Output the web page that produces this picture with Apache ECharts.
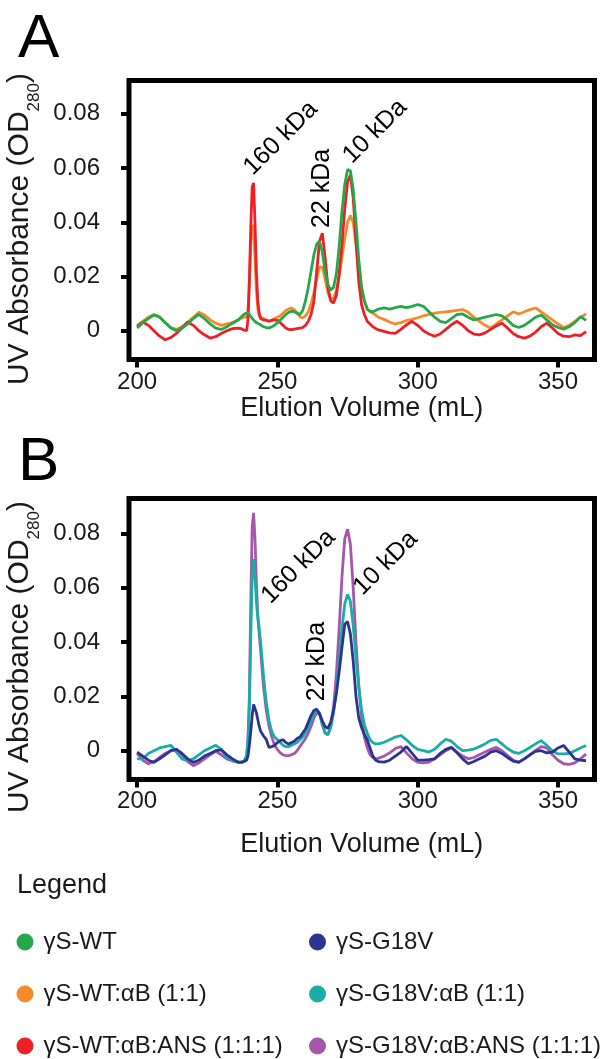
<!DOCTYPE html>
<html>
<head>
<meta charset="utf-8">
<script src="https://cdn.jsdelivr.net/npm/echarts@6/dist/echarts.min.js"></script>
<style>
html,body{margin:0;padding:0;background:#fff;}
#chart{width:605px;height:1059px;}
</style>
</head>
<body>
<div id="chart"></div>
<script>
// ---------------- data ----------------
const volume = [200,202,204,206,208,210,212,214,216,218,220,222,224,226,228,230,232,234,236,
  237,238,239,
  239.5,240,240.5,241,241.5,242,242.5,243,243.5,244,
  245,246,247,248,249,250,251,252,253,254,255,256,257,258,259,260,261,262,263,264,265,266,267,268,269,270,
  271,272,273,274,275,276,277,278,279,280,281,282,283,284,285,286,
  288,290,292,294,296,298,300,302,304,306,308,310,312,314,316,318,320,322,324,326,328,330,332,334,336,338,
  340,342,344,346,348,350,352,354,356,358,360];

// Panel A
const wt = [0.001,0.003,0.0045,0.0058,0.005,0.003,0.001,0.0,0.001,0.0025,0.0045,0.006,0.0045,0.0025,0.001,0.0005,0.0015,0.0028,0.004,
  0.005,0.006,0.0066,
  0.0064,0.006,0.0052,0.0046,0.004,0.0035,0.003,0.0028,0.0025,0.002,
  0.0015,0.0012,0.001,0.0015,0.002,0.003,0.004,0.005,0.006,0.0068,
  0.0072,0.007,0.0065,0.006,0.0075,0.011,0.016,0.022,0.028,0.032,
  0.033,0.029,0.022,0.017,0.015,0.016,0.021,0.031,0.044,0.054,
  0.0595,0.059,0.052,0.040,0.026,0.016,0.011,0.008,0.0072,0.007,
  0.0075,0.008,
  0.0084,0.008,0.0085,0.009,0.0085,0.009,0.0097,0.009,0.007,0.005,
  0.0035,0.003,0.0045,0.006,0.0062,0.005,0.004,0.0045,0.005,0.0055,
  0.006,0.0055,0.004,0.002,0.0012,0.002,0.0035,0.005,0.0058,0.004,
  0.0022,0.0012,0.0006,0.0015,0.003,0.0052,0.0038];

const wtAB = [0.002,0.0035,0.005,0.006,0.0052,0.003,0.0012,0.0005,0.0015,0.003,0.005,0.0068,0.0058,0.004,0.0028,0.002,0.0025,0.003,0.004,
  0.0045,0.005,0.005,
  0.007,0.018,0.032,0.039,0.038,0.027,0.015,0.008,0.0055,0.0048,
  0.0045,0.004,0.0035,0.004,0.0045,0.005,0.0055,0.0065,0.0075,0.008,
  0.0084,0.0078,0.0065,0.0052,0.0047,0.0055,0.007,0.010,0.014,0.019,
  0.0235,0.0235,0.019,0.014,0.0115,0.012,0.015,0.020,0.027,0.034,
  0.040,0.0425,0.040,0.032,0.022,0.015,0.011,0.008,0.007,0.0065,
  0.0058,0.005,
  0.0042,0.0032,0.0025,0.003,0.0038,0.0042,0.0048,0.0055,0.006,0.0065,
  0.0068,0.007,0.0072,0.0075,0.0078,0.0068,0.005,0.0035,0.002,0.001,
  0.0025,0.004,0.0055,0.007,0.0062,0.007,0.0078,0.0084,0.007,0.0055,
  0.004,0.0025,0.0012,0.002,0.0035,0.005,0.0062];

const wtABANS = [0.0015,0.0032,0.002,0.0,-0.002,-0.0033,-0.0025,-0.001,0.001,0.0033,0.002,0.0,-0.0015,-0.0027,-0.0022,-0.001,0.0,0.0008,0.001,
  0.0008,0.0003,0.0,
  0.004,0.018,0.038,0.053,0.0545,0.040,0.022,0.011,0.0065,0.0045,
  0.004,0.0038,0.0035,0.0038,0.004,0.0038,0.003,0.002,0.001,0.0005,
  0.0004,0.0006,0.0008,0.001,0.0012,0.002,0.0035,0.006,0.011,0.022,
  0.033,0.036,0.027,0.016,0.011,0.0102,0.013,0.021,0.032,0.045,
  0.055,0.0575,0.049,0.033,0.018,0.0095,0.006,0.0035,0.0025,0.0015,
  0.0008,0.0003,
  -0.0002,-0.0008,-0.001,0.0005,0.0022,0.0035,0.002,0.0,-0.0012,-0.002,
  -0.0012,0.0005,0.0022,0.0035,0.002,0.0,-0.0012,-0.0015,-0.0008,0.0005,
  0.0018,0.0028,0.001,-0.001,-0.0022,-0.0027,-0.002,-0.0005,0.0015,0.0028,
  0.001,-0.001,-0.002,-0.0022,-0.0015,-0.0018,-0.0003];

// Panel B
const g18v = [-0.0005,-0.002,-0.0035,-0.0043,-0.003,-0.0015,0.0,0.0005,-0.001,-0.003,-0.0043,-0.0035,-0.002,-0.001,0.0,0.0003,-0.0015,-0.003,-0.0043,
  -0.0042,-0.004,-0.0035,
  -0.002,0.002,0.007,0.013,0.017,0.0165,0.014,0.0115,0.009,0.0072,
  0.0055,0.0042,0.0012,0.0015,0.002,0.003,0.0037,0.004,0.003,0.0025,
  0.003,0.0035,0.0045,0.005,0.0065,0.008,0.0105,0.013,0.0148,0.0153,
  0.0135,0.011,0.0088,0.0083,0.0105,0.015,0.021,0.029,0.038,0.0465,
  0.0475,0.043,0.033,0.020,0.012,0.0085,0.006,0.004,0.001,-0.002,
  -0.0035,-0.004,
  -0.0042,-0.0035,-0.002,-0.0005,0.0015,-0.001,-0.0035,-0.0035,-0.0033,-0.003,
  -0.001,0.0005,0.0012,-0.0008,-0.003,-0.0048,-0.004,-0.003,-0.002,-0.0005,
  0.0,-0.001,-0.0025,-0.0038,-0.0042,-0.003,-0.0015,-0.0002,0.0,-0.0008,
  -0.0005,0.001,0.0019,-0.0005,-0.003,-0.0035,-0.0037];

const g18vAB = [-0.003,-0.003,-0.001,0.0,0.001,0.0015,0.002,-0.0005,-0.003,-0.0037,-0.003,-0.0015,0.0,0.001,0.002,0.0005,-0.0025,-0.0035,-0.004,
  -0.0043,-0.004,-0.002,
  0.004,0.016,0.042,0.064,0.0705,0.064,0.055,0.049,0.045,0.040,
  0.028,0.018,0.011,0.007,0.005,0.004,0.003,0.002,0.0015,0.0015,
  0.002,0.0025,0.003,0.004,0.005,0.0065,0.0085,0.011,0.0135,0.015,
  0.014,0.010,0.0065,0.0058,0.0085,0.014,0.022,0.033,0.045,0.054,
  0.0575,0.055,0.046,0.034,0.023,0.015,0.0095,0.0065,0.004,0.003,
  0.0025,0.0025,
  0.0031,0.004,0.005,0.0056,0.004,0.002,0.0005,0.0,-0.0005,0.0005,
  0.0025,0.0042,0.0035,0.0015,0.0,0.0002,0.0006,0.0015,0.0025,0.0038,
  0.0042,0.0025,0.0008,-0.0005,-0.001,0.0,0.0012,0.0025,0.0037,0.002,
  0.0,-0.0012,-0.0012,-0.001,0.0,0.001,0.0019];

const g18vABANS = [-0.001,-0.0035,-0.0048,-0.004,-0.0025,-0.001,0.0,0.0005,-0.0015,-0.004,-0.0055,-0.0045,-0.003,-0.0015,-0.0002,-0.0015,-0.003,-0.0038,-0.0042,
  -0.0043,-0.004,-0.002,
  0.004,0.02,0.055,0.082,0.0875,0.078,0.062,0.050,0.043,0.037,
  0.024,0.015,0.009,0.005,0.002,0.0005,-0.0008,-0.0015,-0.0018,-0.0018,
  -0.0015,-0.001,0.0,0.0015,0.003,0.0045,0.0065,0.009,0.012,0.014,
  0.0135,0.0095,0.0065,0.006,0.009,0.016,0.028,0.045,0.064,0.078,
  0.0815,0.076,0.060,0.040,0.024,0.012,0.005,0.001,-0.0015,-0.0025,
  -0.003,-0.0028,
  -0.002,-0.0008,0.0008,0.0015,-0.0008,-0.003,-0.0043,-0.0045,-0.0042,-0.003,
  -0.0015,0.0,0.0012,-0.0005,-0.002,-0.003,-0.0025,-0.0015,-0.0005,0.0005,
  0.0012,0.0,-0.0018,-0.0035,-0.0043,-0.003,-0.0015,0.0,0.0015,0.001,
  -0.0015,-0.0035,-0.0048,-0.005,-0.0045,-0.003,-0.0012];

const xTicks = [200, 250, 300, 350];
const yTicks = [0, 0.02, 0.04, 0.06, 0.08];
const yTickLabels = ['0', '0.02', '0.04', '0.06', '0.08'];

const namesA = ['γS-WT', 'γS-WT:αB (1:1)', 'γS-WT:αB:ANS (1:1:1)'];
const namesB = ['γS-G18V', 'γS-G18V:αB (1:1)', 'γS-G18V:αB:ANS (1:1:1)'];

// peak annotations (data coordinates)
const annText = ['160 kDa', '22 kDa', '10 kDa'];
const annRotate = [45, 90, 45];
const annXA = [251.2, 266.0, 284.8];
const annYA = [0.071, 0.0525, 0.0735];
const annXB = [257.5, 264.0, 288.6];
const annYB = [0.0677, 0.0328, 0.069];

// ---------------- styling ----------------
const FONT = "'Liberation Sans', Arial, Helvetica, sans-serif";
const TXT = '#1a1a1a';
const COL = {
  'γS-WT': '#25A84A',
  'γS-WT:αB (1:1)': '#F58A2B',
  'γS-WT:αB:ANS (1:1:1)': '#EC2027',
  'γS-G18V': '#2B3591',
  'γS-G18V:αB (1:1)': '#1AADA6',
  'γS-G18V:αB:ANS (1:1:1)': '#A657A9'
};

function pairs(arr) { return volume.map((v, i) => [v, arr[i]]); }

function lineSeries(name, arr, idx) {
  return {
    name: name, type: 'line', xAxisIndex: idx, yAxisIndex: idx,
    data: pairs(arr), showSymbol: false, symbol: 'none',
    color: COL[name],
    lineStyle: { width: 2.8, color: COL[name] },
    animation: false, silent: true, z: 3
  };
}

function annSeries(xs, ys, idx) {
  return {
    type: 'scatter', xAxisIndex: idx, yAxisIndex: idx, symbolSize: 0, silent: true, z: 5,
    itemStyle: { color: '#000', opacity: 1 },
    label: { show: true, position: 'inside', formatter: p => p.name, opacity: 1,
      fontSize: 25, fontFamily: FONT, color: '#000', textBorderWidth: 0, textBorderColor: 'transparent' },
    data: annText.map((t, i) => ({ name: t, value: [xs[i], ys[i]], label: { rotate: annRotate[i] } })),
    animation: false
  };
}

function xAxis(idx, nameGap, labelMargin) {
  return {
    gridIndex: idx, type: 'value', min: 197.1, max: 363,
    axisLine: { show: false, onZero: false },
    splitLine: { show: false },
    axisTick: { show: true, inside: false, customValues: xTicks, length: 8, lineStyle: { width: 4, color: '#000' } },
    axisLabel: { customValues: xTicks, fontSize: 24, fontFamily: FONT, color: TXT, margin: labelMargin },
    name: 'Elution Volume (mL)', nameLocation: 'middle', nameGap: nameGap,
    nameTextStyle: { fontSize: 27, fontFamily: FONT, color: TXT }
  };
}

function yAxis(idx, max, nameGap, shift) {
  return {
    gridIndex: idx, type: 'value', min: -0.0106, max: max,
    axisLine: { show: false, onZero: false },
    splitLine: { show: false },
    axisTick: { show: true, inside: false, customValues: yTicks, length: 8, lineStyle: { width: 4, color: '#000' } },
    axisLabel: { customValues: yTicks, fontSize: 24, fontFamily: FONT, color: TXT, margin: 29,
      formatter: v => yTickLabels[yTicks.findIndex(t => Math.abs(t - v) < 1e-9)] },
    name: '{m|UV Absorbance (OD}{s|280}{m|)}', nameLocation: 'middle', nameGap: nameGap, nameRotate: 90,
    nameTextStyle: {
      padding: [0, shift, 0, 0],
      rich: {
        m: { fontSize: 30, fontFamily: FONT, color: TXT, lineHeight: 46, verticalAlign: 'middle' },
        s: { fontSize: 17, fontFamily: FONT, color: TXT, lineHeight: 17, verticalAlign: 'bottom' }
      }
    }
  };
}

const legendCommon = {
  orient: 'vertical', icon: 'circle', itemWidth: 27, itemHeight: 17, itemGap: 28, padding: 0,
  height: 140, selectedMode: false,
  textStyle: { fontSize: 24, lineHeight: 20, fontFamily: FONT, color: TXT }
};

const gridCommon = { show: true, borderColor: '#000', borderWidth: 5, backgroundColor: 'transparent',
  containLabel: false, outerBoundsMode: 'none' };

const option = {
  backgroundColor: '#fff',
  animation: false,
  title: [
    { text: 'A', left: 18, top: 9, padding: 0, textStyle: { fontSize: 62, fontWeight: 'normal', fontFamily: FONT, color: '#000' } },
    { text: 'B', left: 18, top: 432, padding: 0, textStyle: { fontSize: 62, fontWeight: 'normal', fontFamily: FONT, color: '#000' } },
    { text: 'Legend', left: 17, top: 872, padding: 0, textStyle: { fontSize: 27, fontWeight: 'normal', fontFamily: FONT, color: TXT } }
  ],
  legend: [
    Object.assign({ data: namesA, left: 16.5, top: 930 }, legendCommon),
    Object.assign({ data: namesB, left: 309, top: 930 }, legendCommon)
  ],
  grid: [
    Object.assign({ left: 129, top: 80.5, width: 465.5, height: 279 }, gridCommon),
    Object.assign({ left: 129, top: 498.5, width: 465.5, height: 281 }, gridCommon)
  ],
  xAxis: [xAxis(0, 34, 11), xAxis(1, 52, 10)],
  yAxis: [yAxis(0, 0.0923, 66, 18), yAxis(1, 0.0928, 66, 36)],
  series: [
    lineSeries(namesA[1], wtAB, 0),
    lineSeries(namesA[2], wtABANS, 0),
    lineSeries(namesA[0], wt, 0),
    lineSeries(namesB[2], g18vABANS, 1),
    lineSeries(namesB[1], g18vAB, 1),
    lineSeries(namesB[0], g18v, 1),
    annSeries(annXA, annYA, 0),
    annSeries(annXB, annYB, 1)
  ]
};

const chart = echarts.init(document.getElementById('chart'), null, { renderer: 'canvas' });
chart.setOption(option);
</script>
</body>
</html>
